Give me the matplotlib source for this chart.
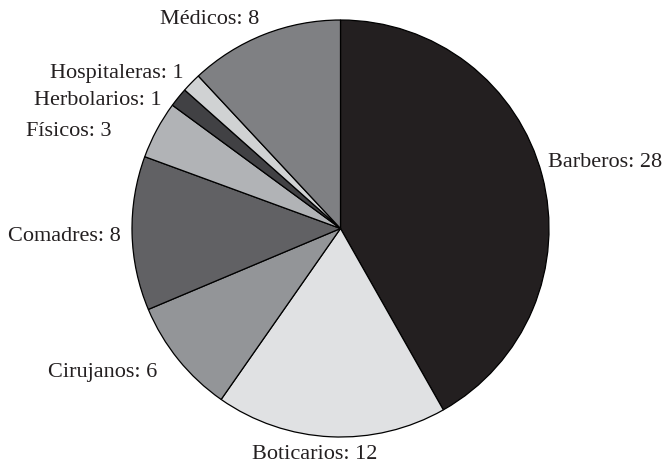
import matplotlib.pyplot as plt
import numpy as np

categorias = ['Barberos', 'Boticarios', 'Cirujanos', 'Comadres', 'Físicos',
              'Herbolarios', 'Hospitaleras', 'Médicos']
valores = [28, 12, 6, 8, 3, 1, 1, 8]
colores = ['#231f20', '#e0e1e3', '#939598', '#616164', '#b1b3b6',
           '#414144', '#d0d2d3', '#7f8083']

# posicion de las etiquetas (angulo en grados, distancia en radios)
ang_etq = [18.6, -96.7, -142.6, -178.7, 156.2, 143.6, 134.8, 110.9]
dist_etq = [1.05, 1.075, 1.107, 1.053, 1.20, 1.063, 1.071, 1.091]

plt.rcParams['font.family'] = ['Liberation Serif', 'DejaVu Serif']

fig = plt.figure(figsize=(6.63, 4.64), dpi=100)
ax = fig.add_axes([0, 0, 1, 1])

ax.pie(valores, colors=colores, startangle=90, counterclock=False, radius=1,
       wedgeprops={'edgecolor': 'black', 'linewidth': 0.9})

for nom, v, a, d in zip(categorias, valores, ang_etq, dist_etq):
    x = d * np.cos(np.radians(a))
    y = d * np.sin(np.radians(a))
    if abs(x) < 0.3:
        ha = 'center'
    elif x > 0:
        ha = 'left'
    else:
        ha = 'right'
    ax.text(x, y, '%s: %d' % (nom, v), ha=ha, va='center_baseline',
            fontsize=16, color='#231f20')

ax.set_aspect('auto')
ax.set_xlim(-340.5 / 208.5, (663 - 340.5) / 208.5)
ax.set_ylim(-(464 - 229.5) / 208.5, 229.5 / 208.5)
ax.axis('off')

fig.savefig('out.png', dpi=100)
